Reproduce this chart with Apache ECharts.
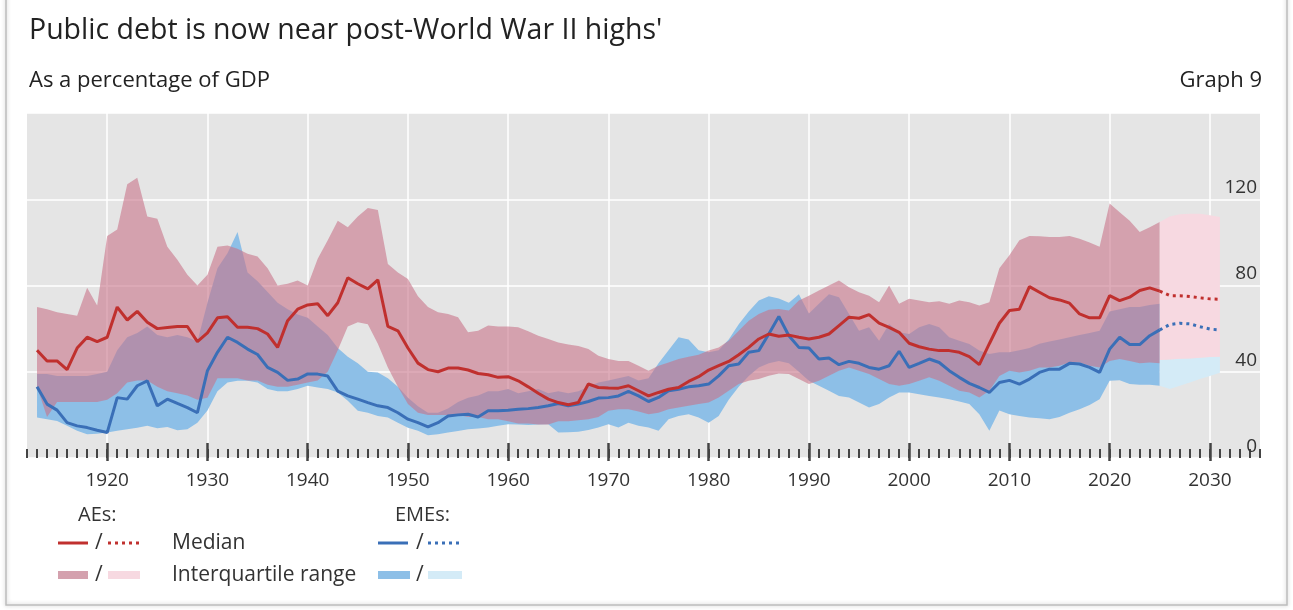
<!DOCTYPE html>
<html>
<head>
<meta charset="utf-8">
<title>Public debt is now near post-World War II highs</title>
<script src="https://cdn.jsdelivr.net/npm/echarts@6/dist/echarts.min.js"></script>
<style>
  html, body { margin: 0; padding: 0; background: #fff; }
  #chart { width: 1293px; height: 610px; }
</style>
</head>
<body>
<div id="chart"></div>
<script>
// axis runs 1912..2035, history 1913-2025, projection 2025-2031
const firstYear = 1912, lastYear = 2035;
const histStart = 1913, projStart = 2025;

// AEs median, % of GDP (1913-2025)
const aeMedian = [
  50, 45, 45, 41, 51, 56, 54,
  56, 70, 64, 68, 63, 60, 60.5, 61, 61, 54,
  58, 65, 65.5, 60.6, 60.6, 60, 57.5, 51.3, 63.7, 69,
  71, 71.5, 66, 72, 83.6, 80.8, 78.4, 82.6, 61, 59,
  51, 44, 41, 40, 41.7, 41.7, 40.8, 39.2, 38.6, 37.4,
  37.7, 35.8, 33, 30, 27.3, 25.7, 24.7, 25.7, 34.3, 32.7,
  32.5, 32.4, 33.5, 31.2, 28.8, 30.4, 31.9, 32.7, 35.5, 37.7,
  40.8, 42.8, 44.8, 47.9, 51.3, 55.2, 57.5, 56.5, 57, 56,
  55.2, 56, 57.5, 61.4, 65.3, 64.8, 66.5, 62.5, 60.6, 58.3,
  53.2, 51.6, 50.5, 49.8, 49.8, 49, 47, 43.3, 53, 62.5,
  68.4, 69, 79.5, 76.9, 74.3, 73.3, 71.8, 66.8, 65, 65,
  75.3, 73, 74.6, 77.7, 78.9, 77.4
];
// AEs interquartile range
const aeHigh = [
  70, 69, 67.6, 66.8, 66, 79, 70.7,
  103, 106, 127, 130, 112, 111, 98, 92, 85, 80,
  85, 98, 98.5, 97, 94.7, 93.5, 88, 80, 80.8, 82.3,
  80, 92.4, 101, 110, 107, 112, 116, 115, 90, 86,
  83, 75, 70, 67.6, 66.8, 65.3, 58.3, 59, 61.4, 61,
  61, 60.6, 58.8, 56.7, 55.2, 53.6, 52.6, 52, 50.5, 47.4,
  45.9, 45, 45, 42.8, 40.5, 42.8, 44.3, 45.9, 47, 47.9,
  49.8, 51.3, 54.4, 59, 63.7, 66.8, 68.7, 69.1, 68.4, 73,
  75.3, 77.7, 80, 82.3, 79.2, 76.9, 75.3, 72.2, 80, 71.5,
  73.8, 73, 72.2, 72.7, 71.5, 73, 72.2, 70.7, 72.2, 88,
  94, 101, 103, 102.8, 102.5, 102.5, 103, 101.7, 100, 98,
  118, 114, 110, 104.8, 107, 109.5
];
const aeLow = [
  33, 19, 26, 26, 26, 26, 26,
  27, 30, 35, 36, 36, 33, 31, 30, 29, 27,
  28, 37, 37, 37, 36, 36, 34, 33, 33, 34,
  35, 36, 40, 50, 61, 63, 62, 53, 42, 33,
  25, 21, 20, 20, 20, 20, 19, 19, 18, 18,
  17, 16, 16, 15.5, 15.5, 17, 17, 17.5, 18, 19,
  21.9, 22.6, 22.6, 21.6, 20.3, 21, 22.6, 23.4, 24.2, 25,
  25.7, 28.1, 31.2, 34.3, 35.8, 36.6, 38.1, 39.2, 38.9, 36.6,
  34.3, 35.8, 38.1, 40.5, 42, 40.5, 38.9, 36.6, 34.3, 33.5,
  34.3, 35.8, 37.4, 35.8, 33.5, 31.2, 30.4, 28.1, 31.2, 38,
  40.5, 39.7, 40.5, 42, 42, 42.8, 44.3, 44.3, 42.8, 42,
  45, 45.9, 45, 43.9, 44.3, 43.9
];

// EMEs median (1913-2025)
const emeMedian = [
  33, 25, 22.2, 16.4, 14.9, 14.1, 12.9,
  11.8, 28, 27.3, 33.5, 35.8, 24.2, 27.3, 25.3, 23.4, 21,
  40.5, 49, 56, 53.6, 50.5, 48, 42, 39.7, 36, 36.6,
  39, 38.9, 38, 31, 28.8, 27.3, 25.7, 24.2, 23.4, 21,
  18, 16.4, 14.4, 16.4, 19.5, 20, 20.3, 19, 21.9, 21.9,
  22.2, 22.6, 22.9, 23.4, 24.2, 25.3, 24.2, 25, 26.2, 27.8,
  28, 28.8, 30.9, 28.8, 26.2, 28.1, 31.2, 31.9, 33, 33.5,
  34.3, 38.1, 42.8, 43.6, 49, 49.8, 57.5, 65.6, 56.7, 51.3,
  51, 45.9, 46.4, 43.3, 44.8, 43.9, 42, 41.2, 42.8, 49.5,
  42, 43.9, 45.9, 44.3, 40.5, 37.4, 34.6, 32.7, 30.4, 35,
  36, 34.3, 36.6, 39.7, 41.2, 41.2, 43.9, 43.6, 42, 39.7,
  50.5, 56, 52.6, 52.6, 56.7, 59.4
];
// EMEs interquartile range
const emeHigh = [
  39, 39, 38, 38, 38, 38, 39,
  40, 50, 56, 58, 61, 57, 56, 57, 56, 54,
  72, 88, 95, 104.8, 86, 82, 77, 72, 69, 66.5,
  65, 61, 57, 51, 47, 44, 40, 39.7, 37, 33,
  28, 24, 21, 21, 23, 26, 28, 29, 31, 31,
  32, 30, 31, 32, 30, 31, 30, 31, 33, 35,
  36, 37, 38, 36, 37, 44, 50, 56, 55, 50,
  49, 50, 55, 62, 68, 73, 75, 74, 72, 76,
  67, 71.5, 76, 74.6, 66.8, 59, 60.6, 54.4, 62.2, 58.3,
  57.5, 60.6, 62.2, 60.6, 56, 54.4, 52.9, 49.8, 48.2, 49,
  49, 50, 51, 53, 54, 55, 56, 57, 58, 59,
  68, 69, 70, 70, 71, 71.5
];
const emeLow = [
  18.8, 18, 17.2, 15, 12.6, 11, 11.3,
  11.8, 12.6, 13.3, 14, 15, 13.8, 14.4, 12.9, 13.3, 16.4,
  22, 31, 35, 35.8, 35.8, 35, 32, 31, 31, 32,
  33.5, 32.7, 32, 30.4, 26.5, 21.9, 21, 19.5, 18.8, 16.4,
  14, 12.6, 10.5, 11, 11.8, 12.5, 13.3, 13.7, 14.1, 15,
  15.7, 15.5, 15.3, 15.5, 15.7, 11.8, 12, 12.2, 13, 14.1,
  15.7, 14.1, 16.4, 14.9, 14.1, 12.6, 18, 19.5, 20.3, 18.8,
  16.4, 19.5, 27, 33, 38, 42, 44, 45, 44, 40,
  35.8, 33.5, 31.2, 28.8, 28.1, 25.7, 23.4, 25, 28.1, 30.4,
  30.4, 29.6, 28.8, 28.1, 27.3, 26.2, 25, 20.3, 12.6, 22,
  20.3, 19.5, 18.8, 18.4, 18, 19, 21, 22.6, 24.6, 27.3,
  35.8, 36.1, 34.3, 34, 34, 33.5
];

// projections 2025-2031
const aeProjMedian = [77.4, 75.3, 75.3, 74.9, 74.3, 73.8, 73.6];
const aeProjHigh = [109.5, 112, 113, 113.3, 113.3, 112.6, 111.8];
const aeProjLow = [45.5, 45.7, 46, 46.2, 46.5, 46.8, 47];
const emeProjMedian = [59.4, 61.9, 62.5, 62.2, 60.9, 59.8, 59.4];
const emeProjHigh = [45.5, 45.7, 46, 46.2, 46.5, 46.8, 47];
const emeProjLow = [33.5, 32, 33.5, 35, 36.6, 38, 39.5];

const yTicks = [0, 40, 80, 120];

const FONT = '"Open Sans", "Noto Sans", sans-serif';
const RED = '#c0302e', BLUE = '#3a6fb7';
const PINK = 'rgba(200,115,137,0.6)', PINK_SOLID = '#d4a1ae';
const SKY = '#8dbfe7';
const PINK_LIGHT = '#f7d9e1', SKY_LIGHT = '#d4ebf7';

const years = [];
for (let y = firstYear; y <= lastYear; y++) years.push(String(y));

// spread values over the full year axis
function pad(values, start) {
  const out = years.map(() => '-');
  values.forEach((v, i) => { out[start - firstYear + i] = v; });
  return out;
}
function diff(hi, lo) {
  return hi.map((v, i) => +(v - lo[i]).toFixed(2));
}
const isDecade = (i, v) => Number(v) % 10 === 0;

function base(stack, data) {
  return { type: 'line', stack, data, symbol: 'none', silent: true,
    lineStyle: { opacity: 0, width: 0 } };
}
function band(stack, data, color) {
  return { type: 'line', stack, data, symbol: 'none', silent: true,
    lineStyle: { opacity: 0, width: 0 },
    areaStyle: { color, opacity: 1 } };
}
function line(data, color, dotted) {
  return { type: 'line', data, symbol: 'none', silent: true,
    lineStyle: { color, width: 3, type: dotted ? [3, 4] : 'solid' } };
}

const chart = echarts.init(document.getElementById('chart'));

const txt = (text, x, y, size) => ({
  type: 'text', x, y,
  style: { text, font: size + 'px ' + FONT, fill: '#333', verticalAlign: 'middle' }
});
const bar = (x, y, w, color) => ({
  type: 'rect', shape: { x, y: y - 4, width: w, height: 8 }, style: { fill: color }
});
const seg = (x1, x2, y, color, dotted) => ({
  type: 'line', shape: { x1, y1: y, x2, y2: y },
  style: { stroke: color, lineWidth: 3, lineDash: dotted ? [3, 4] : null }
});

chart.setOption({
  animation: false,
  title: [
    { text: "Public debt is now near post-World War II highs'", left: 24, top: 11,
      textStyle: { fontSize: 28.5, fontWeight: 'normal', color: '#222', fontFamily: FONT } },
    { text: 'As a percentage of GDP', left: 24, top: 65,
      textStyle: { fontSize: 22, fontWeight: 'normal', color: '#222', fontFamily: FONT } },
    { text: 'Graph 9', right: 26, top: 65,
      textStyle: { fontSize: 22, fontWeight: 'normal', color: '#222', fontFamily: FONT } }
  ],
  grid: { left: 27, right: 33, top: 113, bottom: 152, show: true,
    backgroundColor: '#e5e5e5', borderWidth: 0 },
  xAxis: [
    { type: 'category', data: years, boundaryGap: false, position: 'bottom', offset: 3,
      axisLine: { show: false },
      axisTick: { show: true, inside: true, length: 9, interval: 0,
        lineStyle: { color: '#444', width: 2 } },
      axisLabel: { interval: isDecade, fontSize: 19, color: '#333', margin: 10, fontFamily: FONT },
      splitLine: { show: true, interval: isDecade, lineStyle: { color: '#fff', width: 1.5 } } },
    { type: 'category', data: years, boundaryGap: false, position: 'bottom', offset: 3,
      axisLine: { show: false },
      axisTick: { show: true, inside: true, length: 18, interval: isDecade,
        lineStyle: { color: '#444', width: 2.5 } },
      axisLabel: { show: false }, splitLine: { show: false } }
  ],
  yAxis: {
    type: 'value', min: yTicks[0], max: 160, interval: yTicks[1] - yTicks[0], position: 'right',
    axisLine: { show: false }, axisTick: { show: false },
    axisLabel: { inside: true, margin: 3, fontSize: 19, color: '#333', fontFamily: FONT,
      verticalAlign: 'bottom', padding: [0, 0, 2, 0], showMaxLabel: false },
    splitLine: { lineStyle: { color: '#fff', width: 1.5 } }
  },
  series: [
    base('eme', pad(emeLow, histStart)),
    band('eme', pad(diff(emeHigh, emeLow), histStart), SKY),
    base('ae', pad(aeLow, histStart)),
    band('ae', pad(diff(aeHigh, aeLow), histStart), PINK),
    base('emeP', pad(emeProjLow, projStart)),
    band('emeP', pad(diff(emeProjHigh, emeProjLow), projStart), SKY_LIGHT),
    base('aeP', pad(aeProjLow, projStart)),
    band('aeP', pad(diff(aeProjHigh, aeProjLow), projStart), PINK_LIGHT),
    line(pad(emeMedian, histStart), BLUE, false),
    line(pad(emeProjMedian, projStart), BLUE, true),
    line(pad(aeMedian, histStart), RED, false),
    line(pad(aeProjMedian, projStart), RED, true)
  ],
  graphic: [
    { type: 'rect', z: -10, silent: true, shape: { x: 6, y: -10, width: 1281, height: 615 },
      style: { fill: 'none', stroke: '#bdbdbd', lineWidth: 1.5,
        shadowBlur: 4, shadowColor: 'rgba(0,0,0,0.25)' } },
    txt('AEs:', 78, 515, 20),
    seg(58, 88, 543, RED, false), txt('/', 95, 543, 21), seg(108, 140, 543, RED, true),
    txt('Median', 172, 543, 21),
    bar(58, 575, 30, PINK_SOLID), txt('/', 95, 575, 21), bar(108, 575, 32, PINK_LIGHT),
    txt('Interquartile range', 172, 575, 21),
    txt('EMEs:', 395, 515, 20),
    seg(378, 408, 543, BLUE, false), txt('/', 416, 543, 21), seg(428, 460, 543, BLUE, true),
    bar(378, 575, 32, SKY), txt('/', 416, 575, 21), bar(428, 575, 34, SKY_LIGHT)
  ]
});
</script>
</body>
</html>
